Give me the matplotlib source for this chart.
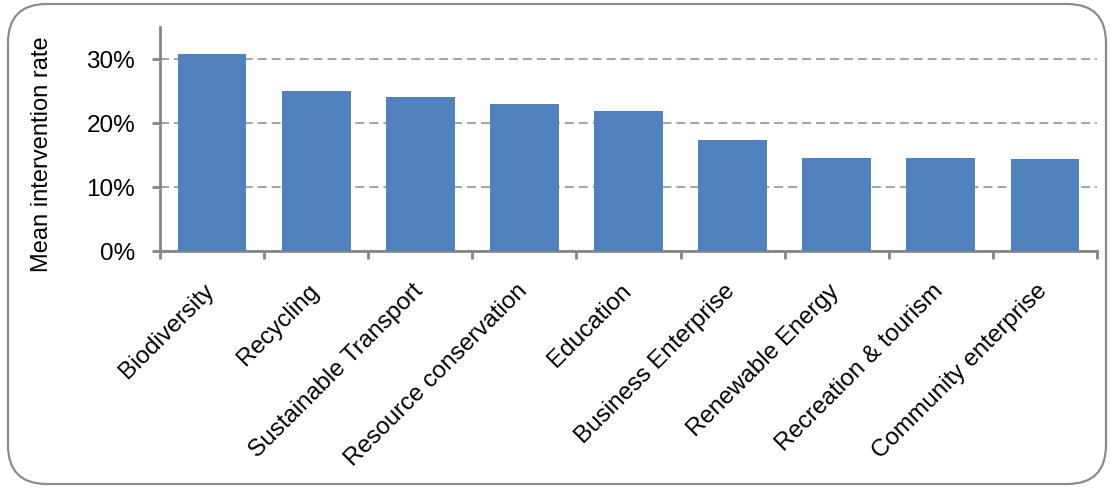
import matplotlib
matplotlib.use("Agg")
import matplotlib.pyplot as plt
import matplotlib.transforms as mtransforms
from matplotlib.patches import FancyBboxPatch
from matplotlib.ticker import FuncFormatter, FixedLocator
import numpy as np

categories = ["Biodiversity", "Recycling", "Sustainable Transport", "Resource conservation",
              "Education", "Business Enterprise", "Renewable Energy", "Recreation & tourism",
              "Community enterprise"]
values = [0.308, 0.250, 0.240, 0.230, 0.218, 0.173, 0.146, 0.146, 0.143]
y_ticks = [0.0, 0.1, 0.2, 0.3]

plt.rcParams['font.family'] = ['Liberation Sans', 'DejaVu Sans']

W, H = 1111, 492
fig = plt.figure(figsize=(W/100, H/100), dpi=100)
ax = fig.add_axes([160/W, 1-251/H, (1097-160)/W, (251-27)/H])

border = FancyBboxPatch((8/W, 8/H), (1106-8)/W, (488-8)/H,
                        boxstyle="round,pad=0,rounding_size=0.035",
                        transform=fig.transFigure, facecolor='none',
                        edgecolor='#8c8c8c', linewidth=1.6, mutation_aspect=W/H)
fig.patches.append(border)

x = np.arange(len(categories))
ax.bar(x, values, width=0.66, color='#4F81BD', zorder=3)
ax.set_xlim(-0.5, len(categories) - 0.5)
ax.set_ylim(0, 0.35)

ax.set_yticks(y_ticks)
ax.yaxis.set_major_formatter(FuncFormatter(lambda v, p: f"{v*100:.0f}%"))
ax.yaxis.grid(True, color='#A6A6A6', linewidth=1.5, linestyle=(0, (4.3, 2.4)), zorder=1)

ax.set_xticks(x)
ax.set_xticklabels(categories, rotation=45, ha='right', fontsize=17.5)
ax.xaxis.set_minor_locator(FixedLocator(np.arange(-0.5, len(categories), 1.0)))
ax.tick_params(axis='x', which='major', length=0, pad=21)
ax.tick_params(axis='x', which='minor', length=6, width=2, color='#868686', direction='out')
ax.tick_params(axis='y', which='major', length=6, width=2, color='#868686', labelsize=17.5, pad=12)

offset = mtransforms.ScaledTranslation(7/100, 0, fig.dpi_scale_trans)
for lab in ax.get_xticklabels():
    lab.set_transform(lab.get_transform() + offset)

for s in ['top', 'right']:
    ax.spines[s].set_visible(False)
for s in ['left', 'bottom']:
    ax.spines[s].set_color('#868686')
    ax.spines[s].set_linewidth(2)

ax.set_ylabel("Mean intervention rate", fontsize=17)
ax.yaxis.set_label_coords((53 - 160) / (1097 - 160), (251 - 154.5) / (251 - 27))

fig.savefig("out.png", dpi=100)
